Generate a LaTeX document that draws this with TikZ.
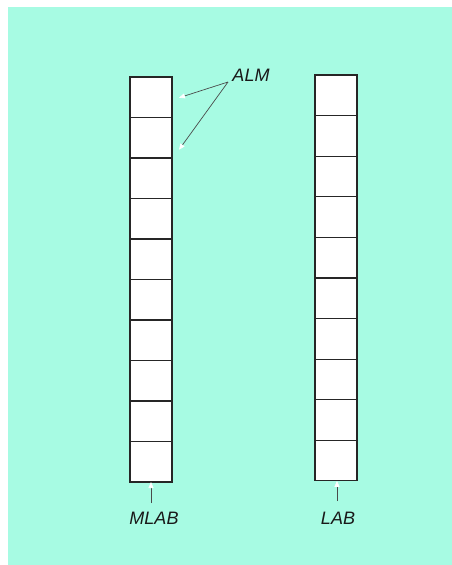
\documentclass[tikz,border=0pt]{standalone}
\usepackage{fontspec}
\setmainfont{Liberation Sans}
\usetikzlibrary{arrows.meta}
\definecolor{bg}{HTML}{A7FBE3}
\definecolor{ln}{HTML}{4A4A4A}
\begin{document}
\begin{tikzpicture}[x=1pt,y=-1pt,
  cell/.style={draw=black!85,line width=1.1pt,fill=white,minimum width=42pt,minimum height=40.5pt,inner sep=0pt,outer sep=0pt},
  lbl/.style={font=\fontsize{18pt}{20pt}\selectfont\itshape,text=black!90,inner sep=0pt},
  ptr/.style={draw=ln,line width=0.7pt,-{Triangle[white,length=6pt,width=5pt]}}]
\useasboundingbox (0,0) rectangle (452,565);
\fill[bg] (8,7) rectangle (452,565);
\foreach \i in {0,...,9}{
  \node[cell,anchor=north west] (L\i) at (130,{77+40.5*\i}) {};
  \node[cell,anchor=north west] (R\i) at (315,{75+40.6*\i}) {};
}
\node[lbl] (alm) at (251,75) {ALM};
\node[lbl] (mlab) at (154,518) {MLAB};
\node[lbl] (lab) at (338,518) {LAB};
\coordinate (almf) at (228,82);
\coordinate (mf) at (151,503);
\coordinate (lf) at (337,501);
\draw[ptr] (almf) -- ([xshift=7pt,yshift=-0.5pt]L0.east);
\draw[ptr] (almf) -- ([xshift=7pt,yshift=-12pt]L1.east);
\draw[ptr] (mf) -- (L9.south -| mf);
\draw[ptr] (lf) -- (R9.south -| lf);
\end{tikzpicture}
\end{document}
